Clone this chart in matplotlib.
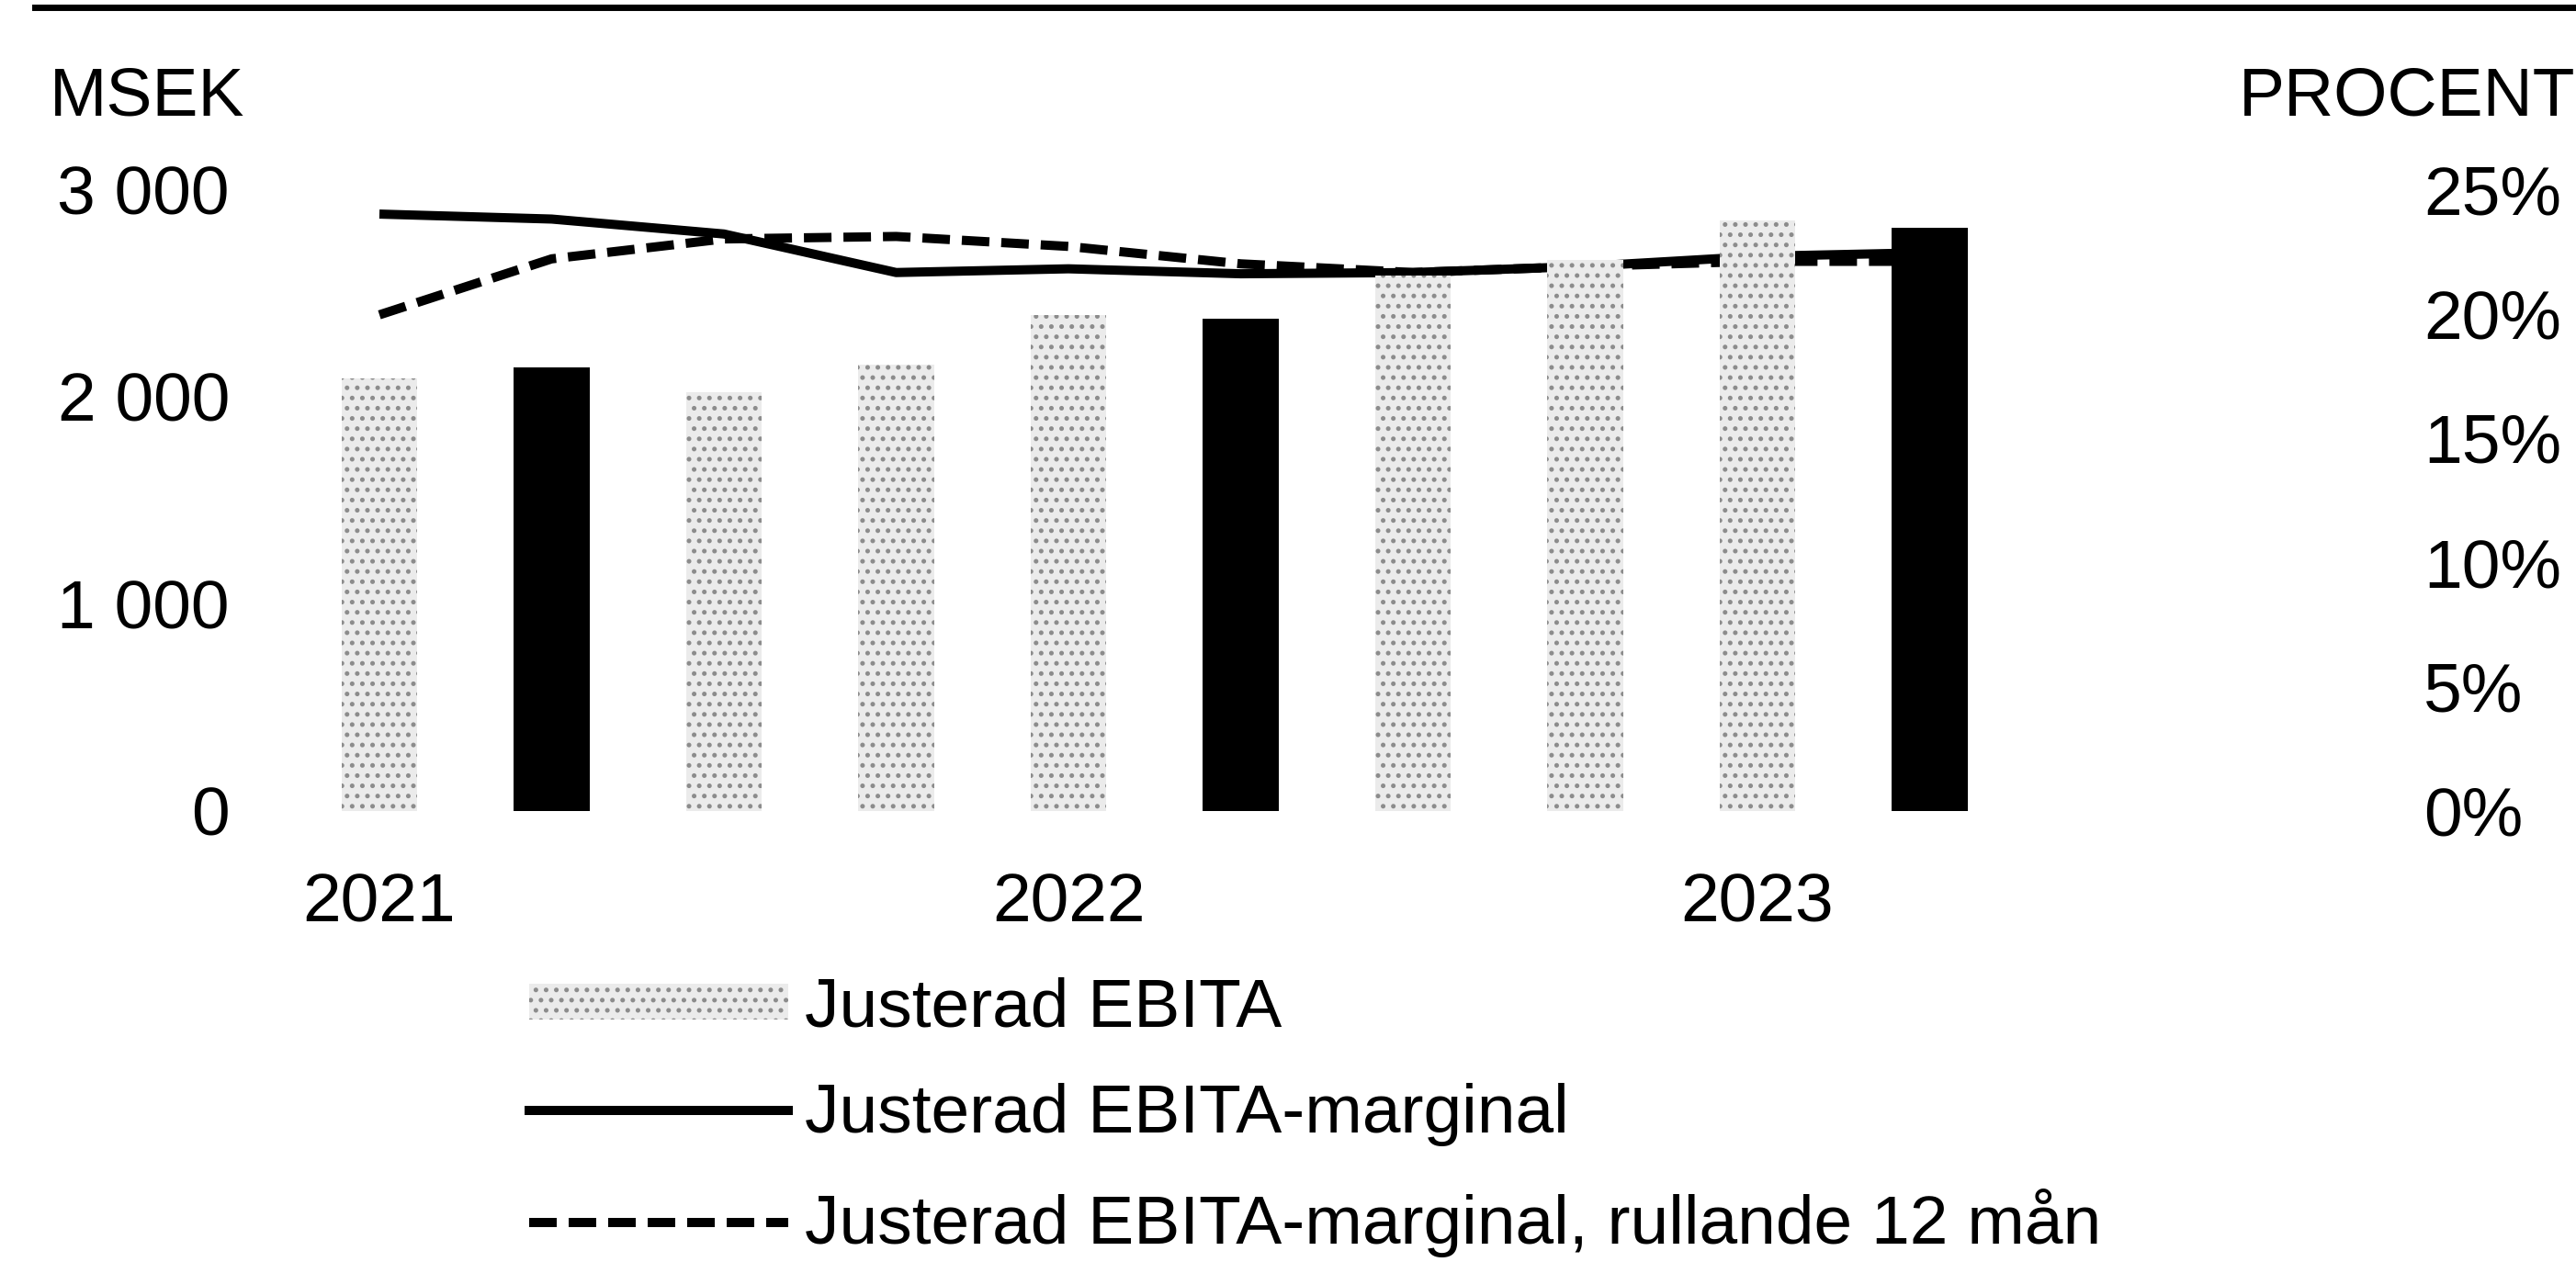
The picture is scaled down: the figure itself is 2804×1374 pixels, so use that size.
import matplotlib
matplotlib.use("Agg")
import matplotlib.pyplot as plt
from matplotlib.lines import Line2D
import numpy as np

plt.rcParams['font.family'] = ['Liberation Sans', 'DejaVu Sans']

quarters = ['Q1 2021', 'Q2 2021', 'Q3 2021', 'Q4 2021',
            'Q1 2022', 'Q2 2022', 'Q3 2022', 'Q4 2022',
            'Q1 2023', 'Q2 2023']
ebita = [2085, 2142, 2020, 2155, 2394, 2376, 2584, 2660, 2850, 2814]  # MSEK
margin = [24.0, 23.8, 23.2, 21.65, 21.8, 21.6, 21.65, 21.9, 22.3, 22.45]  # %
margin_r12 = [19.95, 22.2, 23.0, 23.1, 22.7, 22.0, 21.65, 21.9, 22.1, 22.1]  # %
highlight = [False, True, False, False, False, True, False, False, False, True]
year_ticks = [0, 4, 8]
year_labels = ['2021', '2022', '2023']

W, H, DPI = 2804, 1374, 200
fs = 27

fig = plt.figure(figsize=(W / DPI, H / DPI), dpi=DPI)
# axes placed in pixel terms
left_px, right_px, bottom_px, top_px = 290, 2600, 883, 206
ax = fig.add_axes([left_px / W, 1 - bottom_px / H,
                   (right_px - left_px) / W, (bottom_px - top_px) / H])
ax2 = ax.twinx()

x = np.arange(len(quarters))
step = 187.5
ax.set_xlim((left_px - 413) / step, (right_px - 413) / step)
ax.set_ylim(0, 3000)
ax2.set_ylim(0, 25)

for xi, v, h in zip(x, ebita, highlight):
    if h:
        ax.bar(xi, v, 0.44, color='black', linewidth=0, zorder=3)
    else:
        ax.bar(xi, v, 0.44, color='#ebebeb', edgecolor='#8c8c8c',
               hatch='...', linewidth=0, zorder=2)

ax2.plot(x, margin, color='black', lw=3.6, solid_capstyle='butt', zorder=4)
ax2.plot(x, margin_r12, color='black', lw=3.6, dashes=(3, 1.3),
         dash_capstyle='butt', zorder=4)
ax.set_zorder(ax2.get_zorder() + 1)
ax.patch.set_visible(False)

ax.set_yticks([0, 1000, 2000, 3000])
ax.set_yticklabels(['0', '1 000', '2 000', '3 000'])
ax2.set_yticks([0, 5, 10, 15, 20, 25])
ax2.set_yticklabels([f'{t}%' for t in [0, 5, 10, 15, 20, 25]])
ax.set_xticks(year_ticks)
ax.set_xticklabels(year_labels)

ax.tick_params(axis='y', length=0, pad=14.4, labelsize=fs)
ax.tick_params(axis='x', length=0, pad=24, labelsize=fs)
ax2.tick_params(axis='y', length=0, pad=13.7, labelsize=fs)
for a in (ax, ax2):
    for s in a.spines.values():
        s.set_visible(False)

fig.text(54 / W, 1 - 106 / H, 'MSEK', fontsize=fs, ha='left', va='center')
fig.text(2803 / W, 1 - 106 / H, 'PROCENT', fontsize=fs, ha='right', va='center')

# thick rule at the top
fig.add_artist(Line2D([38 / W, 1], [1 - 8 / H, 1 - 8 / H], color='black', lw=2.5))

handles = [
    plt.Rectangle((0, 0), 1, 1, facecolor='#ebebeb', edgecolor='#8c8c8c',
                  hatch='...', linewidth=0),
    Line2D([], [], color='black', lw=3.6),
    Line2D([], [], color='black', lw=3.6, dashes=(3, 1.3)),
]
labels = ['Justerad EBITA', 'Justerad EBITA-marginal',
          'Justerad EBITA-marginal, rullande 12 mån']
fig.legend(handles, labels, loc='upper left',
           bbox_to_anchor=(576 / W, 1 - 1063 / H), frameon=False,
           fontsize=fs, handlelength=3.76, handleheight=0.42,
           handletextpad=0.24, labelspacing=0.62, borderpad=0, borderaxespad=0)

fig.savefig('out.png', dpi=DPI)
